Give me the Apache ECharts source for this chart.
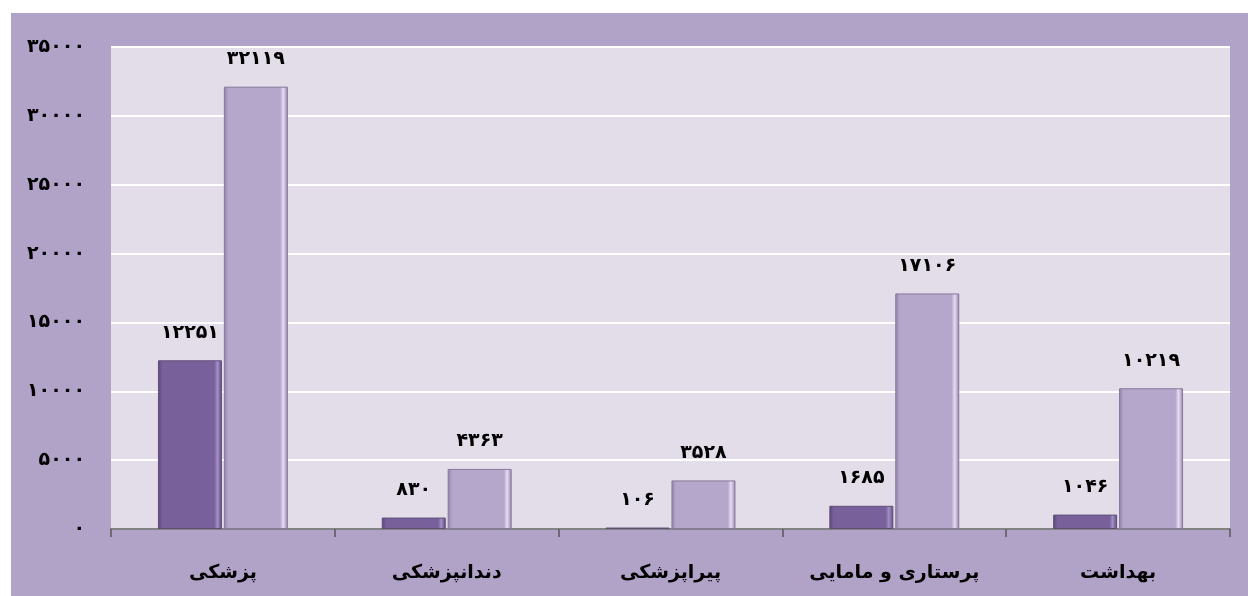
<!DOCTYPE html>
<html>
<head>
<meta charset="utf-8">
<script src="https://cdn.jsdelivr.net/npm/echarts@6/dist/echarts.min.js"></script>
<style>
html,body{margin:0;padding:0;background:#ffffff;}
#chart{width:1248px;height:596px;}
</style>
</head>
<body>
<div id="chart"></div>
<script>
var categories = ['پزشکی', 'دندانپزشکی', 'پیراپزشکی', 'پرستاری و مامایی', 'بهداشت'];
var seriesA = [12251, 830, 106, 1685, 1046];
var seriesB = [32119, 4363, 3528, 17106, 10219];
var yTicks = [0, 5000, 10000, 15000, 20000, 25000, 30000, 35000];

function fa(n) {
  var d = '۰۱۲۳۴۵۶۷۸۹';
  return String(n).replace(/[0-9]/g, function (c) { return d[+c]; });
}

function bevel(base, light, dark) {
  return {
    type: 'linear', x: 0, y: 0, x2: 1, y2: 0,
    colorStops: [
      { offset: 0, color: dark },
      { offset: 0.07, color: base },
      { offset: 0.88, color: base },
      { offset: 0.93, color: light },
      { offset: 1, color: dark }
    ]
  };
}

var chart = echarts.init(document.getElementById('chart'));
var labelStyle = {
  show: true, position: 'top', distance: 18,
  fontFamily: 'DejaVu Sans', fontWeight: 'bold', fontSize: 19, color: '#000',
  formatter: function (p) { return fa(p.value); }
};
chart.setOption({
  backgroundColor: '#ffffff',
  animation: false,
  graphic: [{
    type: 'rect', left: 11, top: 13, z: -10,
    shape: { width: 1237, height: 583 },
    style: { fill: '#b1a2c8' }
  }],
  grid: {
    left: 111, top: 47, right: 18, bottom: 67,
    show: true, backgroundColor: '#e3dde9', borderWidth: 0
  },
  xAxis: {
    type: 'category',
    data: categories,
    axisLine: { show: true, lineStyle: { color: '#595959', width: 1.5 } },
    axisTick: { show: true, length: 8, lineStyle: { color: '#595959', width: 1.5 } },
    axisLabel: {
      margin: 35, fontFamily: 'DejaVu Sans', fontWeight: 'bold', fontSize: 19, color: '#000'
    }
  },
  yAxis: {
    type: 'value',
    min: yTicks[0], max: yTicks[yTicks.length - 1], interval: 5000,
    axisLine: { show: false },
    axisTick: { show: false },
    splitLine: { show: true, lineStyle: { color: '#ffffff', width: 2 } },
    axisLabel: {
      margin: 26, fontFamily: 'DejaVu Sans', fontWeight: 'bold', fontSize: 19, color: '#000',
      formatter: function (v) { return fa(v); }
    }
  },
  series: [
    {
      type: 'bar', data: seriesA, barWidth: 64, barGap: '3%',
      itemStyle: {
        color: bevel('#78619a', '#a48fc8', '#5a4778'),
        borderColor: '#5f4f78', borderWidth: 1
      },
      label: labelStyle
    },
    {
      type: 'bar', data: seriesB, barWidth: 64,
      itemStyle: {
        color: bevel('#b5a6cb', '#e6dcf6', '#8f82a4'),
        borderColor: '#86799b', borderWidth: 1
      },
      label: labelStyle
    }
  ]
});
</script>
</body>
</html>
